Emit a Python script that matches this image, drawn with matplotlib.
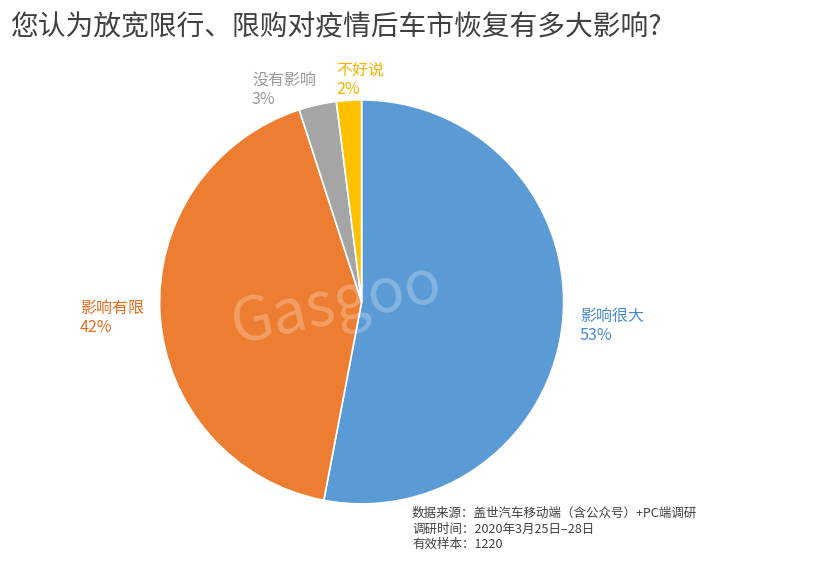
import matplotlib.pyplot as plt

plt.rcParams['font.family'] = ['Noto Sans CJK SC', 'DejaVu Sans']

labels = ['影响很大', '影响有限', '没有影响', '不好说']
values = [53, 42, 3, 2]
colors = ['#5b9bd5', '#ed7d31', '#a5a5a5', '#ffc000']
label_colors = ['#4a8ad0', '#e36c1e', '#9a9a9a', '#f0b400']

fig = plt.figure(figsize=(8.2, 5.75), dpi=100)
fig.text(0.012, 0.953, '您认为放宽限行、限购对疫情后车市恢复有多大影响?',
         fontsize=20, color='#404040', va='center')

ax = fig.add_axes([0.441 - 0.2465, 0.475 - 0.3513, 0.493, 0.7026])
ax.pie(values, colors=colors, startangle=90, counterclock=False,
       wedgeprops=dict(edgecolor='white', linewidth=1.2))
ax.set_xlim(-1.0, 1.0)
ax.set_ylim(-1.0, 1.0)
ax.set_aspect('equal')

# label positions in figure pixels
label_pos = [(580, 326), (80, 318), (252, 90), (336, 80)]
for (x, y), lab, v, c in zip(label_pos, labels, values, label_colors):
    fig.text(x / 820, 1 - y / 575, f'{lab}\n{v}%', fontsize=11.5, color=c,
             ha='left', va='center', linespacing=1.15)

# faint watermark
fig.text(0.41, 0.47, 'Gasgoo', fontsize=44, color='white', alpha=0.25,
         rotation=12, ha='center', va='center')

fig.text(412 / 820, 1 - 529 / 575,
         '数据来源：盖世汽车移动端（含公众号）+PC端调研\n调研时间：2020年3月25日–28日\n有效样本：1220',
         fontsize=9, color='#404040', va='center', linespacing=1.25)

fig.savefig('out.png', dpi=100)
